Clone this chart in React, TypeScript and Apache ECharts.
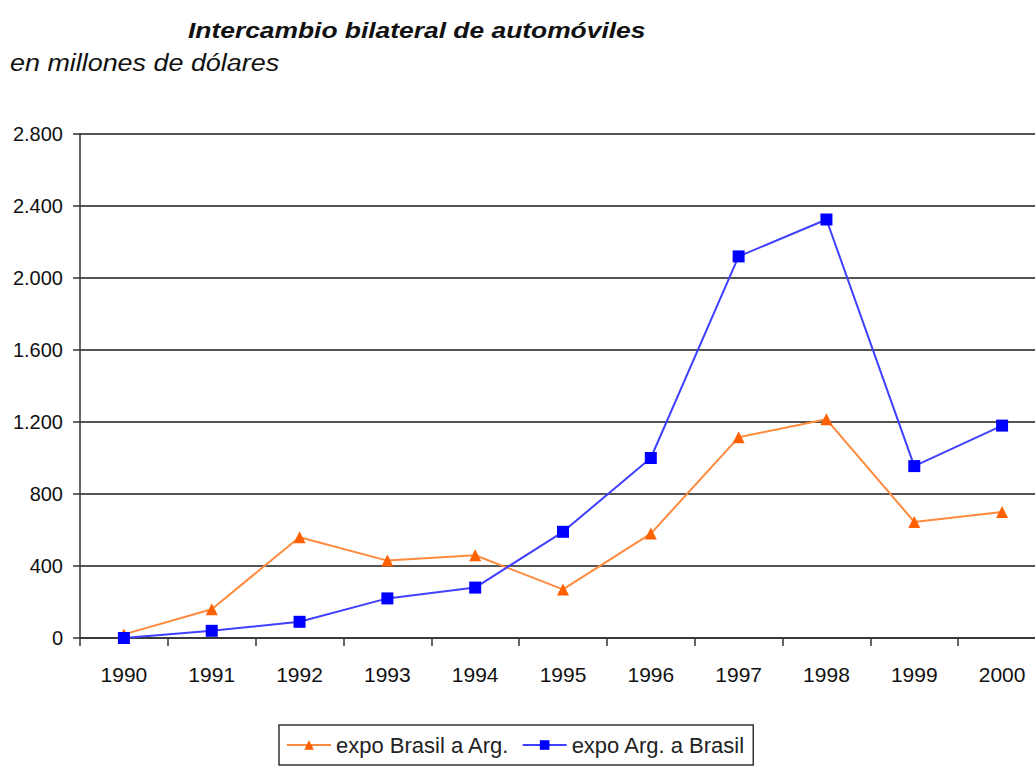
import React, { useEffect, useRef } from "react";
import * as echarts from "echarts";

const years = ["1990", "1991", "1992", "1993", "1994", "1995", "1996", "1997", "1998", "1999", "2000"];
const expoBrasilArg = [20, 160, 560, 430, 460, 270, 580, 1115, 1215, 645, 700];
const expoArgBrasil = [0, 40, 90, 220, 280, 590, 1000, 2120, 2325, 955, 1180];
const yTicks = { min: 0, max: 2800, interval: 400 };

const FONT = "'Liberation Sans', Arial, sans-serif";

export default function App() {
  const ref = useRef<HTMLDivElement>(null);
  useEffect(() => {
    if (!ref.current) return;
    const chart = echarts.init(ref.current, undefined, { renderer: "svg" });
    chart.setOption({
      animation: false,
      backgroundColor: "#ffffff",
      textStyle: { fontFamily: FONT },
      graphic: [
        {
          type: "text",
          x: 188,
          y: 19,
          scaleX: 1.2,
          style: {
            text: "Intercambio bilateral de automóviles",
            font: `italic bold 22px ${FONT}`,
            fill: "#111",
            verticalAlign: "top",
          },
        },
        {
          type: "text",
          x: 10,
          y: 51,
          scaleX: 1.17,
          style: {
            text: "en millones de dólares",
            font: `italic normal 23px ${FONT}`,
            fill: "#111",
            verticalAlign: "top",
          },
        },
      ],
      grid: { left: 80, top: 134, width: 966, height: 504, containLabel: false },
      legend: {
        left: 279,
        top: 725,
        orient: "horizontal",
        padding: [9, 8, 9, 7],
        itemGap: 12,
        itemWidth: 44,
        itemHeight: 12,
        borderColor: "#333",
        borderWidth: 1.5,
        borderRadius: 0,
        textStyle: { fontFamily: FONT, fontSize: 22, color: "#222" },
        data: ["expo Brasil a Arg.", "expo Arg. a Brasil"],
      },
      xAxis: {
        type: "category",
        data: years,
        boundaryGap: true,
        axisLine: { lineStyle: { color: "#333", width: 1.5 } },
        axisTick: { show: true, length: 8, interval: 0, lineStyle: { color: "#333", width: 1.5 } },
        axisLabel: { fontFamily: FONT, fontSize: 21, color: "#111", margin: 26, interval: 0 },
        splitLine: { show: false },
      },
      yAxis: {
        type: "value",
        min: yTicks.min,
        max: yTicks.max,
        interval: yTicks.interval,
        axisLine: { show: true, lineStyle: { color: "#333", width: 1.5 } },
        axisTick: { show: true, length: 7, lineStyle: { color: "#333", width: 1.5 } },
        axisLabel: {
          fontFamily: FONT,
          fontSize: 20,
          color: "#111",
          margin: 17,
          formatter: (v: number) => String(v).replace(/\B(?=(\d{3})+(?!\d))/g, "."),
        },
        splitLine: { show: true, lineStyle: { color: "#555", width: 1.8 } },
      },
      series: [
        {
          name: "expo Brasil a Arg.",
          type: "line",
          data: expoBrasilArg,
          symbol: "triangle",
          symbolSize: 12,
          lineStyle: { color: "#ff8a3d", width: 2 },
          itemStyle: { color: "#ff6000" },
          z: 3,
        },
        {
          name: "expo Arg. a Brasil",
          type: "line",
          data: expoArgBrasil,
          symbol: "rect",
          symbolSize: 12,
          lineStyle: { color: "#4040ff", width: 2 },
          itemStyle: { color: "#0000ff" },
          z: 4,
        },
      ],
    });
    return () => chart.dispose();
  }, []);
  return (
    <div style={{ position: "fixed", left: 0, top: 0, width: 1035, height: 766, overflow: "hidden" }}>
      <div ref={ref} style={{ width: 1060, height: 766 }} />
    </div>
  );
}
